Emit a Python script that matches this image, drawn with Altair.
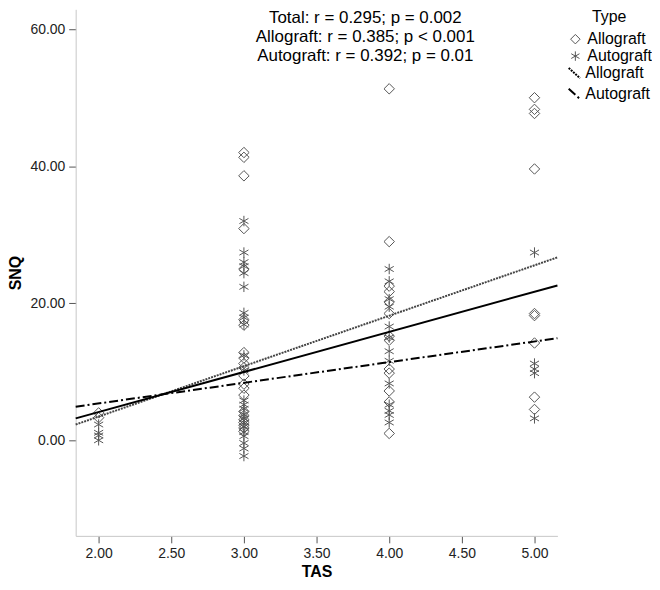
import altair as alt
import pandas as pd

TYPES = ["Allograft", "Autograft"]
FIT_KEYS = ["Allograft fit", "Autograft fit"]
FIT_TONES = ["#444444", "#000000"]
TAS_LEVELS = [2.0, 3.0, 4.0, 5.0]

# SNQ values, grouped by TAS level
allo_tas2 = [4.0, 3.3]
allo_tas3 = [42.0, 41.3, 38.6, 30.9, 25.0, 17.6, 16.8, 12.8, 12.0, 11.2, 10.6, 9.4,
             8.2, 7.6, 6.6, 4.2, 3.6, 3.0, 2.6, 2.2, 1.8, 1.3]
allo_tas4 = [51.3, 29.0, 22.5, 21.7, 20.2, 18.5, 15.2, 14.6, 10.4, 9.8, 7.2, 5.6, 1.0]
allo_tas5 = [50.0, 48.3, 47.7, 39.6, 18.5, 18.2, 14.2, 6.3, 4.5]

auto_tas2 = [2.3, 1.1, 0.7, 0.0]
auto_tas3 = [32.0, 27.4, 26.0, 25.4, 24.4, 22.4, 18.6, 17.9, 16.9, 12.4, 10.2, 5.8,
             5.2, 4.6, 3.8, 3.2, 2.6, 2.0, 1.2, 0.6, -0.4, -1.2, -2.3]
auto_tas4 = [25.0, 23.2, 20.6, 19.5, 16.6, 15.0, 13.0, 11.6, 8.3, 5.2, 4.3, 3.7, 2.6]
auto_tas5 = [27.4, 11.2, 10.4, 9.8, 3.2]

# Fit lines: values at the two ends of the x range
fit_x = [1.842, 5.158]
fit_total = [3.2, 22.6]
fit_allograft = [2.3, 26.7]
fit_autograft = [4.9, 14.9]

stats_lines = [
    "Total: r = 0.295; p = 0.002",
    "Allograft: r = 0.385; p < 0.001",
    "Autograft: r = 0.392; p = 0.01",
]

x_ticks = [2.0, 2.5, 3.0, 3.5, 4.0, 4.5, 5.0]
y_ticks = [0, 20, 40, 60]

# ---- build tables ----
rows = []
for lvl, vals in zip(TAS_LEVELS, [allo_tas2, allo_tas3, allo_tas4, allo_tas5]):
    rows += [{"TAS": lvl, "SNQ": v, "Type": "Allograft"} for v in vals]
for lvl, vals in zip(TAS_LEVELS, [auto_tas2, auto_tas3, auto_tas4, auto_tas5]):
    rows += [{"TAS": lvl, "SNQ": v, "Type": "Autograft"} for v in vals]
points_df = pd.DataFrame(rows)

fit_rows = []
for key, tone, ys in zip(FIT_KEYS, FIT_TONES, [fit_allograft, fit_autograft]):
    fit_rows += [{"TAS": x, "SNQ": y, "Fit": key, "Tone": tone} for x, y in zip(fit_x, ys)]
fit_df = pd.DataFrame(fit_rows)
total_df = pd.DataFrame({"TAS": fit_x, "SNQ": fit_total})
text_df = pd.DataFrame({"label": ["\n".join(stats_lines)]})

FONT = "Liberation Sans"
STAR = "M0,-1L0,1M-0.87,-0.5L0.87,0.5M-0.87,0.5L0.87,-0.5"

xscale = alt.Scale(domain=[1.842, 5.158], nice=False, zero=False)
yscale = alt.Scale(domain=[-13.95, 62.9], nice=False, zero=False)

xenc = alt.X("TAS:Q", scale=xscale,
             axis=alt.Axis(values=x_ticks, format=".2f", title="TAS"))
yenc = alt.Y("SNQ:Q", scale=yscale,
             axis=alt.Axis(values=y_ticks, format=".2f", title="SNQ"))

points = alt.Chart(points_df).mark_point(
    filled=False, strokeWidth=1, color="#555555", opacity=1, size=110
).encode(
    x=xenc,
    y=yenc,
    shape=alt.Shape(
        "Type:N",
        scale=alt.Scale(domain=TYPES, range=["diamond", STAR]),
        legend=alt.Legend(
            title="Type", orient="none", legendX=494, legendY=0,
            titleFontSize=16, titleFontWeight="normal", titleColor="black",
            titleAnchor="middle", titlePadding=6,
            labelFontSize=16, labelColor="black", labelOffset=4,
            symbolSize=90, symbolStrokeWidth=1, symbolStrokeColor="#555555",
            rowPadding=1,
        ),
    ),
)

fits = alt.Chart(fit_df).mark_line(strokeWidth=2).encode(
    x=xenc,
    y=yenc,
    color=alt.Color("Tone:N", scale=None),
    strokeDash=alt.StrokeDash(
        "Fit:N",
        scale=alt.Scale(domain=FIT_KEYS, range=[[2, 1], [9, 3, 2, 3]]),
        legend=alt.Legend(
            title=None, orient="none", legendX=493, legendY=56,
            labelFontSize=16, labelColor="black", labelOffset=3,
            labelExpr="replace(datum.label, ' fit', '')",
            symbolType="M-1,-0.9L1,0.9", symbolSize=130, symbolStrokeWidth=2,
            symbolStrokeColor="black", rowPadding=1,
        ),
    ),
)

total = alt.Chart(total_df).mark_line(color="black", strokeWidth=2).encode(
    x=xenc, y=yenc
)

annot = alt.Chart(text_df).mark_text(
    align="center", baseline="top", fontSize=17, lineBreak="\n", lineHeight=19,
    color="black", font=FONT
).encode(
    text="label:N",
    x=alt.value(291),
    y=alt.value(1),
)

chart = alt.layer(points, fits, total, annot).properties(
    width=484,
    height=529,
    autosize=alt.AutoSizeParams(type="none"),
    padding={"left": 68, "top": 0, "right": 95, "bottom": 43},
).configure(
    font=FONT,
).configure_view(
    stroke=None
).configure_axis(
    grid=False,
    labelFontSize=14,
    labelColor="#222222",
    labelFont=FONT,
    titleFont=FONT,
    titleFontSize=16,
    titleFontWeight="bold",
    titleColor="black",
    domainColor="#c8c8c8",
    tickColor="#555555",
    tickSize=7,
    labelPadding=4,
).configure_axisY(
    titlePadding=6,
).configure_axisX(
    titlePadding=3,
)

chart.save("out.html", embed_options={"renderer": "svg", "actions": False})
